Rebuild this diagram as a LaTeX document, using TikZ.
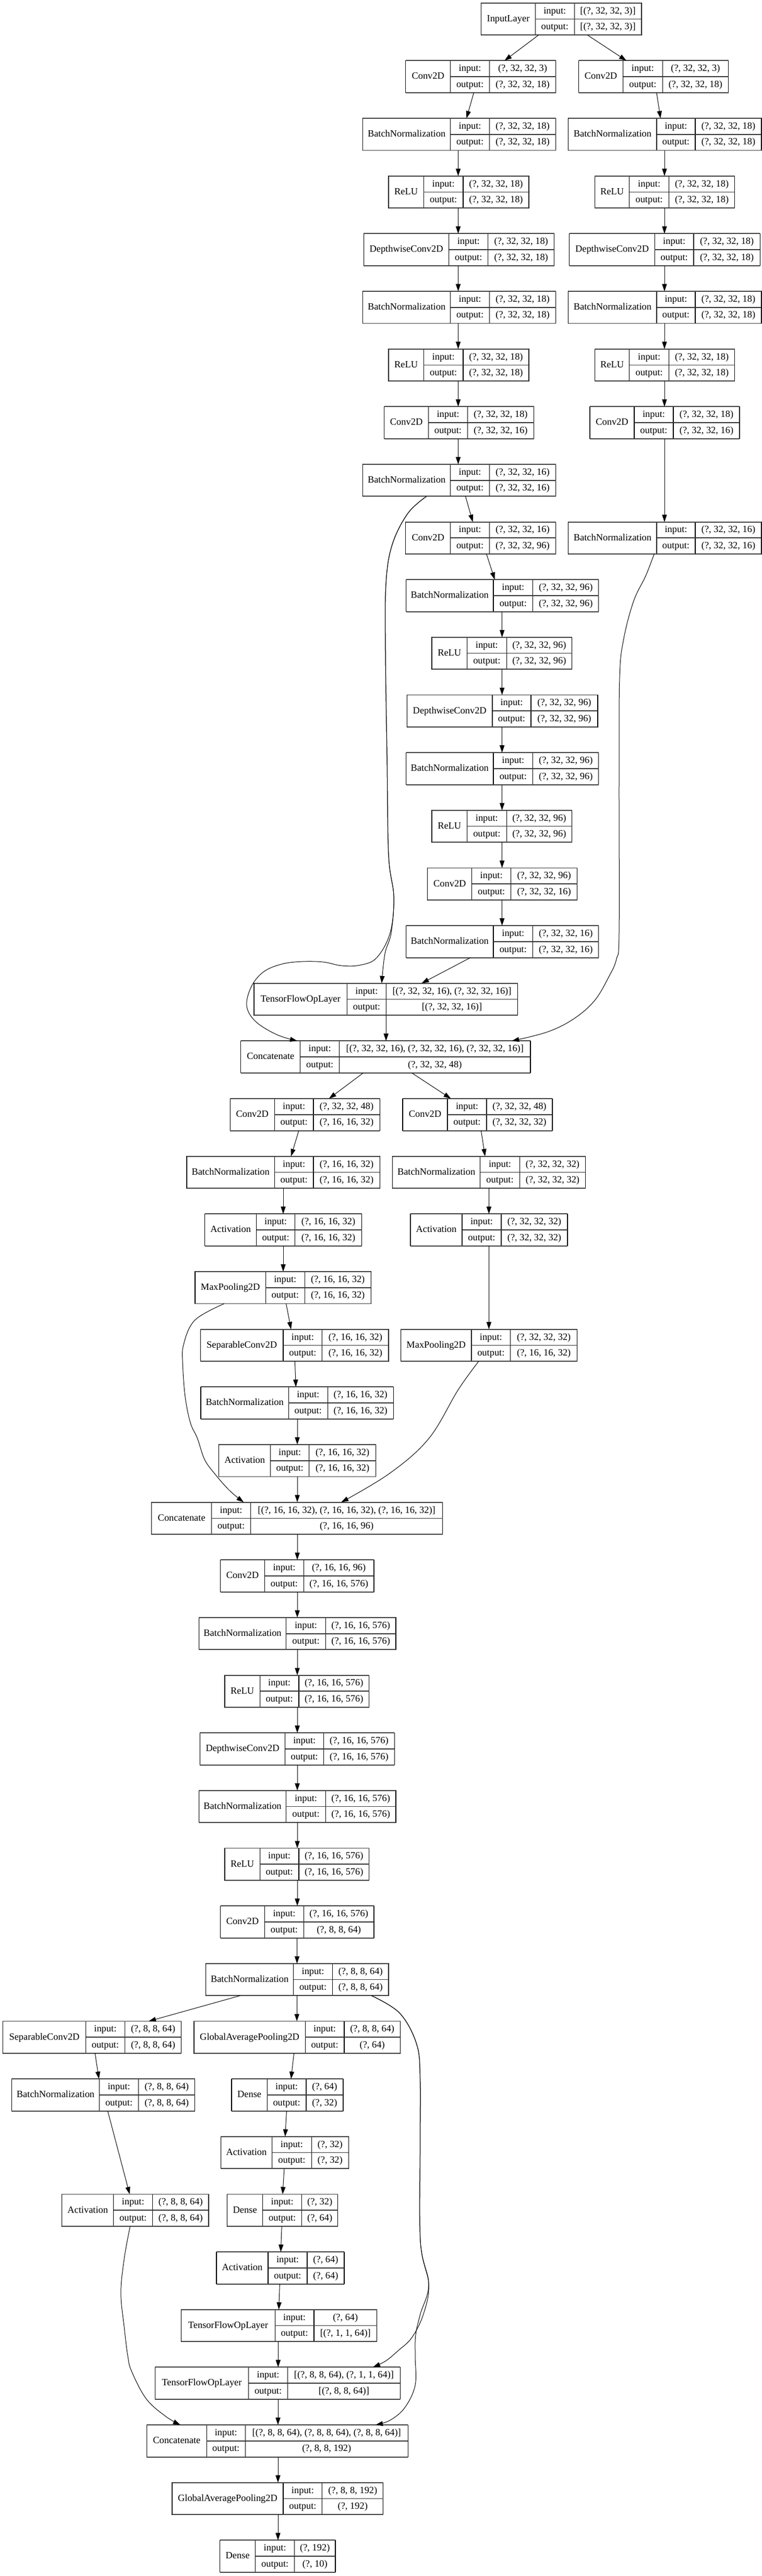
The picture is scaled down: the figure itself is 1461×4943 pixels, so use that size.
\documentclass[tikz,border=0pt]{standalone}
\usepackage{fontspec}
\setmainfont{Liberation Serif}
\usetikzlibrary{arrows.meta,calc}
\tikzset{
  lbox/.style={draw=black, line width=0.55pt, minimum height=30.75pt, inner sep=0pt, outer sep=0pt},
  sepline/.style={line width=0.55pt, black},
  hsepline/.style={line width=0.85pt, black!80},
  tbline/.style={line width=0.95pt, black!75},
  txt/.style={inner sep=0pt, text height=0.68em, text depth=0.2em, font=\fontsize{9.2pt}{11pt}\selectfont},
  arr/.style={line width=0.5pt, -{Triangle[length=7pt,width=4.6pt]}},
}
\newcommand{\klayer}[9]{%
  \pgfmathsetmacro{\kyt}{5.7+(#2-1)*110.65}%
  \pgfmathsetmacro{\kym}{\kyt+30.75}%
  \pgfmathsetmacro{\kyb}{\kyt+61.5}%
  \pgfmathsetmacro{\kyi}{\kyt+15.6}%
  \pgfmathsetmacro{\kyo}{\kyt+46.1}%
  \pgfmathsetmacro{\kw}{(#6-#3)*0.5}%
  \pgfmathsetmacro{\kca}{(#3+#4)/2}%
  \pgfmathsetmacro{\kcb}{(#4+#5)/2}%
  \pgfmathsetmacro{\kcc}{(#5+#6)/2}%
  \node[lbox, minimum width=\kw pt, anchor=north west] (#1) at (#3,\kyt) {};
  \draw[sepline] (#4,\kyt) -- (#4,\kyb) (#5,\kyt) -- (#5,\kyb);
  \draw[hsepline] (#4,\kym) -- (#6,\kym);
  \draw[tbline] (#3,\kyt) -- (#6,\kyt) (#3,\kyb) -- (#6,\kyb);
  \node[txt] at (\kca,\kym) {#7};
  \node[txt] at (\kcb,\kyi) {input:};
  \node[txt] at (\kcb,\kyo) {output:};
  \node[txt] at (\kcc,\kyi) {#8};
  \node[txt] at (\kcc,\kyo) {#9};
}
\newcommand{\vedge}[3]{\draw[arr] (#1,0 |- #2.south) -- (#1,0 |- #3.north);}
\newcommand{\sedge}[4]{\draw[arr] (#1,0 |- #2.south) -- (#3,0 |- #4.north);}
\begin{document}
\begin{tikzpicture}[x=0.5pt,y=-0.5pt]
\useasboundingbox[fill=white] (0,0) rectangle (1461,4943);
% ---- nodes ----
\klayer{in}{1}{922.6}{1026.4}{1101.2}{1230}{InputLayer}{[(?, 32, 32, 3)]}{[(?, 32, 32, 3)]}
\klayer{c1a}{2}{777.7}{863.7}{938.5}{1065.6}{Conv2D}{(?, 32, 32, 3)}{(?, 32, 32, 18)}
\klayer{c1b}{2}{1109.5}{1194.6}{1270.3}{1396.5}{Conv2D}{(?, 32, 32, 3)}{(?, 32, 32, 18)}
\klayer{bn1a}{3}{695.5}{863.7}{938.5}{1065.6}{BatchNormalization}{(?, 32, 32, 18)}{(?, 32, 32, 18)}
\klayer{bn1b}{3}{1089.9}{1259}{1333}{1460}{BatchNormalization}{(?, 32, 32, 18)}{(?, 32, 32, 18)}
\klayer{r1a}{4}{745}{812.3}{888}{1014}{ReLU}{(?, 32, 32, 18)}{(?, 32, 32, 18)}
\klayer{r1b}{4}{1140.4}{1206.8}{1282.5}{1408.7}{ReLU}{(?, 32, 32, 18)}{(?, 32, 32, 18)}
\klayer{dw1a}{5}{697.3}{860.9}{935.7}{1062.8}{DepthwiseConv2D}{(?, 32, 32, 18)}{(?, 32, 32, 18)}
\klayer{dw1b}{5}{1091.8}{1255.4}{1330}{1457.3}{DepthwiseConv2D}{(?, 32, 32, 18)}{(?, 32, 32, 18)}
\klayer{bn2a}{6}{695.5}{863.7}{938.5}{1065.6}{BatchNormalization}{(?, 32, 32, 18)}{(?, 32, 32, 18)}
\klayer{bn2b}{6}{1089.9}{1259}{1333}{1460}{BatchNormalization}{(?, 32, 32, 18)}{(?, 32, 32, 18)}
\klayer{r2a}{7}{745}{812.3}{888}{1014}{ReLU}{(?, 32, 32, 18)}{(?, 32, 32, 18)}
\klayer{r2b}{7}{1140.4}{1206.8}{1282.5}{1408.7}{ReLU}{(?, 32, 32, 18)}{(?, 32, 32, 18)}
\klayer{c2a}{8}{736.6}{821.6}{896.4}{1023.6}{Conv2D}{(?, 32, 32, 18)}{(?, 32, 32, 16)}
\klayer{c2b}{8}{1131}{1216}{1291}{1418}{Conv2D}{(?, 32, 32, 18)}{(?, 32, 32, 16)}
\klayer{bn3a}{9}{695.5}{863.7}{938.5}{1065.6}{BatchNormalization}{(?, 32, 32, 16)}{(?, 32, 32, 16)}
\klayer{c3}{10}{777.7}{863.7}{938.5}{1065.6}{Conv2D}{(?, 32, 32, 16)}{(?, 32, 32, 96)}
\klayer{bn3b}{10}{1089.9}{1259}{1333}{1460}{BatchNormalization}{(?, 32, 32, 16)}{(?, 32, 32, 16)}
\klayer{bn4}{11}{778.6}{946}{1021.7}{1147.9}{BatchNormalization}{(?, 32, 32, 96)}{(?, 32, 32, 96)}
\klayer{r3}{12}{828}{895.5}{971.2}{1096.5}{ReLU}{(?, 32, 32, 96)}{(?, 32, 32, 96)}
\klayer{dw2}{13}{780.5}{944}{1018}{1146}{DepthwiseConv2D}{(?, 32, 32, 96)}{(?, 32, 32, 96)}
\klayer{bn5}{14}{778.6}{946}{1021.7}{1147.9}{BatchNormalization}{(?, 32, 32, 96)}{(?, 32, 32, 96)}
\klayer{r4}{15}{828}{895.5}{971.2}{1096.5}{ReLU}{(?, 32, 32, 96)}{(?, 32, 32, 96)}
\klayer{c4}{16}{819.8}{904.8}{979.6}{1106.8}{Conv2D}{(?, 32, 32, 96)}{(?, 32, 32, 16)}
\klayer{bn6}{17}{778.6}{946}{1021.7}{1147.9}{BatchNormalization}{(?, 32, 32, 16)}{(?, 32, 32, 16)}
\klayer{tf1}{18}{487}{665.5}{740.3}{992.7}{TensorFlowOpLayer}{[(?, 32, 32, 16), (?, 32, 32, 16)]}{[(?, 32, 32, 16)]}
\klayer{cat1}{19}{461.8}{575.8}{650.6}{1017}{Concatenate}{[(?, 32, 32, 16), (?, 32, 32, 16), (?, 32, 32, 16)]}{(?, 32, 32, 48)}
\klayer{c5a}{20}{441.2}{526.3}{601}{728.2}{Conv2D}{(?, 32, 32, 48)}{(?, 16, 16, 32)}
\klayer{c5b}{20}{772}{858}{933}{1059}{Conv2D}{(?, 32, 32, 48)}{(?, 32, 32, 32)}
\klayer{bn7a}{21}{358}{526.3}{601}{728.2}{BatchNormalization}{(?, 16, 16, 32)}{(?, 16, 16, 32)}
\klayer{bn7b}{21}{752.5}{920.7}{996.4}{1122.6}{BatchNormalization}{(?, 32, 32, 32)}{(?, 32, 32, 32)}
\klayer{a1a}{22}{392.6}{491.7}{565.5}{693.6}{Activation}{(?, 16, 16, 32)}{(?, 16, 16, 32)}
\klayer{a1b}{22}{787}{886}{961}{1088}{Activation}{(?, 32, 32, 32)}{(?, 32, 32, 32)}
\klayer{mp1}{23}{374}{509.4}{584.2}{711.3}{MaxPooling2D}{(?, 16, 16, 32)}{(?, 16, 16, 32)}
\klayer{sc1}{24}{384.2}{543}{617.9}{745}{SeparableConv2D}{(?, 16, 16, 32)}{(?, 16, 16, 32)}
\klayer{mp2}{24}{768.4}{904}{978.7}{1106.8}{MaxPooling2D}{(?, 32, 32, 32)}{(?, 16, 16, 32)}
\klayer{bn8}{25}{385}{553.4}{628.2}{754.3}{BatchNormalization}{(?, 16, 16, 32)}{(?, 16, 16, 32)}
\klayer{a2}{26}{419.7}{518.8}{592.6}{720.7}{Activation}{(?, 16, 16, 32)}{(?, 16, 16, 32)}
\klayer{cat2}{27}{290.7}{405.7}{480.5}{848.8}{Concatenate}{[(?, 16, 16, 32), (?, 16, 16, 32), (?, 16, 16, 32)]}{(?, 16, 16, 96)}
\klayer{c6}{28}{422.5}{507.6}{582.4}{717}{Conv2D}{(?, 16, 16, 96)}{(?, 16, 16, 576)}
\klayer{bn9}{29}{381.4}{548.7}{624.4}{759}{BatchNormalization}{(?, 16, 16, 576)}{(?, 16, 16, 576)}
\klayer{r5}{30}{431}{498.2}{573}{707.6}{ReLU}{(?, 16, 16, 576)}{(?, 16, 16, 576)}
\klayer{dw3}{31}{383.3}{546.8}{620.7}{756.2}{DepthwiseConv2D}{(?, 16, 16, 576)}{(?, 16, 16, 576)}
\klayer{bn10}{32}{381.4}{548.7}{624.4}{759}{BatchNormalization}{(?, 16, 16, 576)}{(?, 16, 16, 576)}
\klayer{r6}{33}{431}{498.2}{573}{707.6}{ReLU}{(?, 16, 16, 576)}{(?, 16, 16, 576)}
\klayer{c7}{34}{422.5}{507.6}{582.4}{717}{Conv2D}{(?, 16, 16, 576)}{(?, 8, 8, 64)}
\klayer{bn11}{35}{394.5}{562.7}{637.5}{745}{BatchNormalization}{(?, 8, 8, 64)}{(?, 8, 8, 64)}
\klayer{sc2}{36}{5.6}{164.5}{239.3}{347.7}{SeparableConv2D}{(?, 8, 8, 64)}{(?, 8, 8, 64)}
\klayer{gap1}{36}{372}{585.2}{660}{767.4}{GlobalAveragePooling2D}{(?, 8, 8, 64)}{(?, 64)}
\klayer{bn12}{37}{22.4}{190.7}{265.5}{373.9}{BatchNormalization}{(?, 8, 8, 64)}{(?, 8, 8, 64)}
\klayer{d1}{37}{444}{512.2}{587}{658}{Dense}{(?, 64)}{(?, 32)}
\klayer{a3}{38}{423.4}{521.6}{597.3}{668.3}{Activation}{(?, 32)}{(?, 32)}
\klayer{a4}{39}{118.7}{217.8}{292.6}{400}{Activation}{(?, 8, 8, 64)}{(?, 8, 8, 64)}
\klayer{d2}{39}{435.6}{503.8}{578.6}{647.8}{Dense}{(?, 32)}{(?, 64)}
\klayer{a5}{40}{415}{514}{589}{660}{Activation}{(?, 64)}{(?, 64)}
\klayer{tf2}{41}{347.7}{527.2}{602}{722.6}{TensorFlowOpLayer}{(?, 64)}{[(?, 1, 1, 64)]}
\klayer{tf3}{42}{297.3}{476.7}{551.5}{767.4}{TensorFlowOpLayer}{[(?, 8, 8, 64), (?, 1, 1, 64)]}{[(?, 8, 8, 64)]}
\klayer{cat3}{43}{281.4}{396.3}{470.2}{782.4}{Concatenate}{[(?, 8, 8, 64), (?, 8, 8, 64), (?, 8, 8, 64)]}{(?, 8, 8, 192)}
\klayer{gap2}{44}{330}{543}{617.9}{734.7}{GlobalAveragePooling2D}{(?, 8, 8, 192)}{(?, 192)}
\klayer{d3}{45}{421.6}{489.8}{564.6}{643}{Dense}{(?, 192)}{(?, 10)}
% ---- straight edges ----
\sedge{1032.7}{in}{967.3}{c1a}
\sedge{1126.2}{in}{1201}{c1b}
\sedge{908.4}{c1a}{894.4}{bn1a}
\sedge{1258.9}{c1b}{1266.4}{bn1b}
\vedge{878.5}{bn1a}{r1a}
\vedge{878.5}{r1a}{dw1a}
\vedge{878.5}{dw1a}{bn2a}
\vedge{878.5}{bn2a}{r2a}
\vedge{878.5}{r2a}{c2a}
\vedge{878.5}{c2a}{bn3a}
\vedge{1274}{bn1b}{r1b}
\vedge{1274}{r1b}{dw1b}
\vedge{1274}{dw1b}{bn2b}
\vedge{1274}{bn2b}{r2b}
\vedge{1274}{r2b}{c2b}
\vedge{1274}{c2b}{bn3b}
\sedge{892.5}{bn3a}{906.5}{c3}
\sedge{932.7}{c3}{948.6}{bn4}
\vedge{962.6}{bn4}{r3}
\vedge{962.6}{r3}{dw2}
\vedge{962.6}{dw2}{bn5}
\vedge{962.6}{bn5}{r4}
\vedge{962.6}{r4}{c4}
\vedge{962.6}{c4}{bn6}
\sedge{901.9}{bn6}{808.4}{tf1}
\vedge{740.2}{tf1}{cat1}
\sedge{696.3}{cat1}{630.8}{c5a}
\sedge{789.7}{cat1}{864.5}{c5b}
\sedge{572.9}{c5a}{558}{bn7a}
\sedge{922.4}{c5b}{930}{bn7b}
\vedge{543}{bn7a}{a1a}
\vedge{543}{a1a}{mp1}
\vedge{937.4}{bn7b}{a1b}
\vedge{937.4}{a1b}{mp2}
\sedge{548.6}{mp1}{558}{sc1}
\sedge{565.4}{sc1}{567.3}{bn8}
\vedge{570}{bn8}{a2}
\vedge{570}{a2}{cat2}
\vedge{570}{cat2}{c6}
\vedge{570}{c6}{bn9}
\vedge{570}{bn9}{r5}
\vedge{570}{r5}{dw3}
\vedge{570}{dw3}{bn10}
\vedge{570}{bn10}{r6}
\vedge{570}{r6}{c7}
\vedge{569.5}{c7}{bn11}
\sedge{460.7}{bn11}{285}{sc2}
\vedge{569.2}{bn11}{gap1}
\sedge{563.6}{gap1}{558}{d1}
\sedge{182.2}{sc2}{189.7}{bn12}
\sedge{206.5}{bn12}{248.6}{a4}
\sedge{549.5}{d1}{546.7}{a3}
\sedge{544.9}{a3}{542}{d2}
\sedge{540.2}{d2}{538.3}{a5}
\sedge{536.4}{a5}{534.6}{tf2}
\vedge{533.3}{tf2}{tf3}
\vedge{533}{tf3}{cat3}
\vedge{533}{cat3}{gap2}
\vedge{533}{gap2}{d3}
% ---- curved edges ----
\draw[arr] plot[smooth, tension=0.6] coordinates {(817.8,0 |- bn3a.south) (782,985) (752,1045) (740,1120) (739,1250) (742,1450) (745,1640) (755,1720) (750,1790) (738,1830) (731.8,0 |- tf1.north)};
\draw[arr] plot[smooth, tension=0.6] coordinates {(817.8,0 |- bn3a.south) (782,985) (752,1045) (740,1120) (739,1250) (742,1450) (745,1640) (755,1720) (748,1790) (722,1838) (690,1852) (655,1853) (620,1846) (580,1845) (540,1850) (505,1865) (482,1893) (473,1930) (490,1960) (530,1985) (570,0 |- cat1.north)};
\draw[arr] plot[smooth, tension=0.6] coordinates {(1254.2,0 |- bn3b.south) (1238,1105) (1215,1153) (1196,1225) (1188,1300) (1187,1500) (1187,1790) (1182,1840) (1168,1873) (1140,1920) (1100,1955) (1050,1980) (981.3,0 |- cat1.north)};
\draw[arr] plot[smooth, tension=0.6] coordinates {(430,0 |- mp1.south) (373.8,2533) (352,2580) (350.5,2620) (355,2680) (365,2730) (378.5,2760) (392,2800) (411,2827) (440,2860) (467.3,0 |- cat2.north)};
\draw[arr] plot[smooth, tension=0.6] coordinates {(917.8,0 |- mp2.south) (878.5,2666.7) (822.4,2760) (747.7,2826.7) (654.2,0 |- cat2.north)};
\draw[arr] plot[smooth, tension=0.6] coordinates {(712.1,0 |- bn11.south) (766.4,3863) (799,3923) (805.6,3990) (805.6,4110) (806,4300) (822,4383) (812,4440) (790,4485) (764,4510) (740,4530) (715,0 |- tf3.north)};
\draw[arr] plot[smooth, tension=0.6] coordinates {(712.1,0 |- bn11.south) (766.4,3863) (799,3923) (805.6,3990) (805.6,4110) (806,4300) (822,4383) (806,4440) (797,4480) (796,4520) (796,4577) (776,4620) (748,4644) (720,0 |- cat3.north)};
\draw[arr] plot[smooth, tension=0.6] coordinates {(249.5,0 |- a4.south) (238.3,4333) (231.8,4400) (238.3,4466.7) (244.9,4520) (252.3,4550) (280.4,4603) (317.8,4636.7) (345.8,0 |- cat3.north)};
\end{tikzpicture}
\end{document}
